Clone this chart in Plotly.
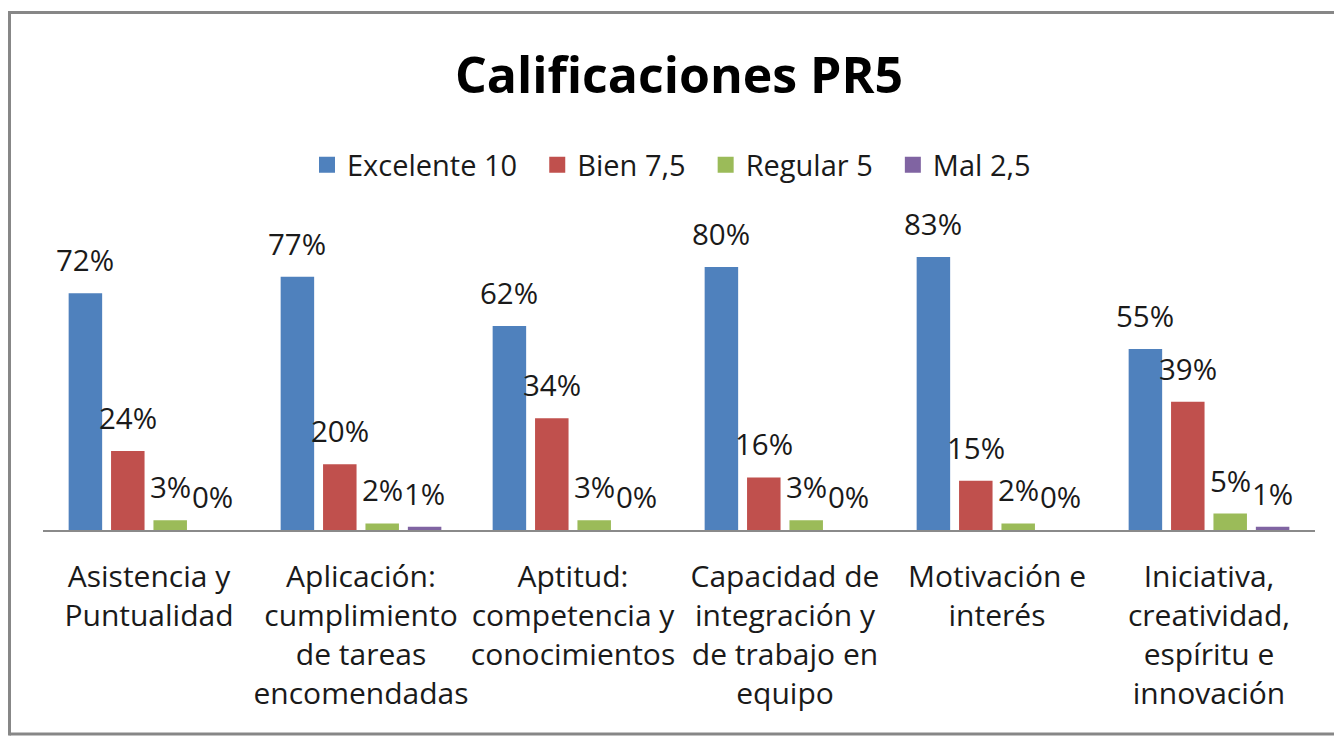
import plotly.graph_objects as go

# ---------------- data ----------------
categories = [
    "Asistencia y<br>Puntualidad",
    "Aplicación:<br>cumplimiento<br>de tareas<br>encomendadas",
    "Aptitud:<br>competencia y<br>conocimientos",
    "Capacidad de<br>integración y<br>de trabajo en<br>equipo",
    "Motivación e<br>interés",
    "Iniciativa,<br>creatividad,<br>espíritu e<br>innovación",
]
series_names = ["Excelente 10", "Bien 7,5", "Regular 5", "Mal 2,5"]
excelente = [72, 77, 62, 80, 83, 55]
bien = [24, 20, 34, 16, 15, 39]
regular = [3, 2, 3, 3, 2, 5]
mal = [0, 1, 0, 0, 0, 1]
series_values = [excelente, bien, regular, mal]
colors = ["#4F81BD", "#C0504D", "#9BBB59", "#8064A2"]
title_text = "Calificaciones PR5"

# ---------------- layout geometry (figure pixels; page adds 8px body margin) ----------------
W, H = 1326, 728
PLOT_L, PLOT_R, AXIS_Y, PLOT_T = 35, 1307, 522, 226
Y_MAX = 90
BARGAP = 0.2
BARGROUPGAP = 0.21
FONT = "Open Sans"
TXT = "#1a1a1a"
NBSP = "\u00a0"


def px_to_paper_x(px):
    return (px - PLOT_L) / (PLOT_R - PLOT_L)


def px_to_paper_y(py):
    return (AXIS_Y - py) / (AXIS_Y - PLOT_T)


x_idx = list(range(len(categories)))
fig = go.Figure()
for name, vals, col in zip(series_names, series_values, colors):
    fig.add_trace(go.Bar(x=x_idx, y=vals, name=name, marker_color=col,
                         marker_line_width=0, showlegend=False,
                         legendgroup=name))
# legend entries with Excel-like square keys
for name, col in zip(series_names, colors):
    fig.add_trace(go.Scatter(x=[None], y=[None], mode="markers",
                             name=name + NBSP * 2, legendgroup=name,
                             marker=dict(symbol="square", size=16, color=col),
                             hoverinfo="skip"))

# value labels above each bar
n = len(series_names)
slot = (1 - BARGAP) / n
annotations = []
for j, vals in enumerate(series_values):
    for i, v in zip(x_idx, vals):
        xc = i - (1 - BARGAP) / 2 + (j + 0.5) * slot
        annotations.append(dict(x=xc, y=v, xref="x", yref="y", text=f"{v}%",
                                showarrow=False, yanchor="bottom", yshift=11,
                                font=dict(family=FONT, size=29.5, color=TXT)))

# chart-area frame (left, top, bottom edges; right edge lies outside the view)
BL, BT, BB, BR = 1.5, 4.5, 726, 1400
frame = dict(type="line", xref="paper", yref="paper",
             line=dict(color="#878787", width=3), layer="below")
shapes = [
    dict(frame, x0=px_to_paper_x(BL), x1=px_to_paper_x(BR),
         y0=px_to_paper_y(BT), y1=px_to_paper_y(BT)),
    dict(frame, x0=px_to_paper_x(BL), x1=px_to_paper_x(BR),
         y0=px_to_paper_y(BB), y1=px_to_paper_y(BB)),
    dict(frame, x0=px_to_paper_x(BL), x1=px_to_paper_x(BL),
         y0=px_to_paper_y(BT - 1.5), y1=px_to_paper_y(BB + 1.5)),
]

fig.update_layout(
    width=W, height=H,
    margin=dict(l=PLOT_L, r=W - PLOT_R, t=PLOT_T, b=H - AXIS_Y),
    paper_bgcolor="white", plot_bgcolor="white",
    barmode="group", bargap=BARGAP, bargroupgap=BARGROUPGAP,
    title=dict(text=f"<b>{title_text}</b>", x=0.5, xref="paper",
               y=1 - 67 / H, yref="container", yanchor="middle",
               font=dict(family=FONT, size=50, color="#000000")),
    legend=dict(orientation="h", x=0.5, xanchor="center",
                y=px_to_paper_y(157), yanchor="middle",
                font=dict(family=FONT, size=29, color=TXT),
                bgcolor="rgba(0,0,0,0)", itemsizing="trace"),
    xaxis=dict(tickmode="array", tickvals=x_idx, ticktext=categories,
               range=[-0.5, len(categories) - 0.5], tickangle=0,
               showline=True, linecolor="#8a8a8a", linewidth=2,
               showgrid=False, zeroline=False, ticks="",
               ticklabelstandoff=19,
               tickfont=dict(family=FONT, size=30, color=TXT)),
    yaxis=dict(range=[0, Y_MAX], visible=False, showgrid=False,
               zeroline=False),
    annotations=annotations,
    shapes=shapes,
)

fig.write_html("out.html")
